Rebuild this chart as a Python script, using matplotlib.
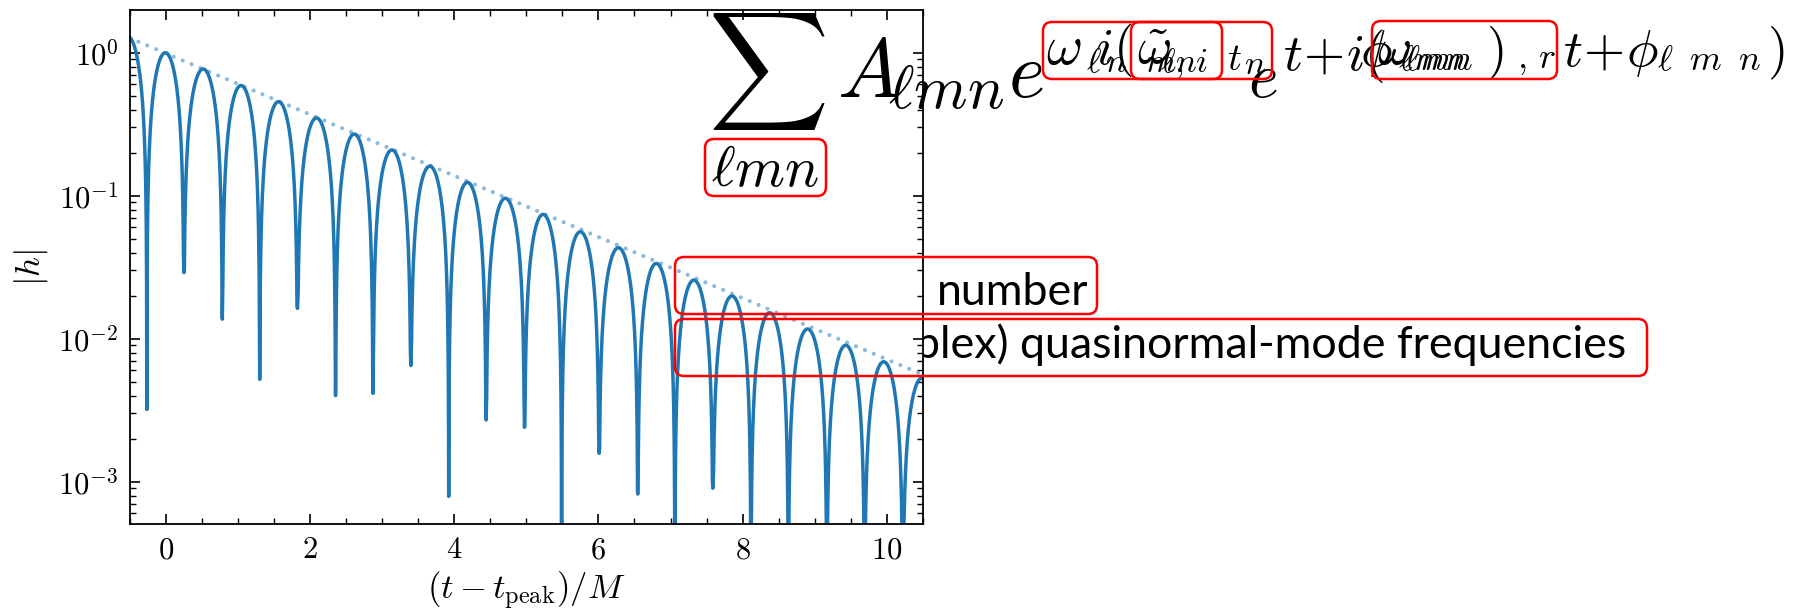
import numpy as np
import matplotlib
matplotlib.use("Agg")
import matplotlib.pyplot as plt
from matplotlib.ticker import FuncFormatter, MultipleLocator, LogLocator, NullFormatter
from matplotlib.patches import FancyBboxPatch
from matplotlib.transforms import IdentityTransform

plt.rcParams['mathtext.fontset'] = 'cm'

W, H = 1795, 611

# zero crossings of the ringdown (where |h| spikes down) and the sampled floor at each one
node_t = [-0.79, -0.26, 0.254, 0.787, 1.305, 1.828, 2.356, 2.875, 3.40, 3.925, 4.444,
          4.976, 5.49, 6.01, 6.546, 7.06, 7.587, 8.115, 8.633, 9.167, 9.69, 10.22, 10.75]
node_h = [1e-5, 3.2e-3, 2.9e-2, 1.37e-2, 5.2e-3, 1.63e-2, 4.0e-3, 4.15e-3, 6.5e-3, 7.9e-4, 2.7e-3,
          2.4e-3, 1e-5, 1.58e-3, 8.2e-4, 1e-5, 9.0e-4, 1e-5, 1e-5, 1e-5, 1e-5, 1e-5, 1e-5]
# height of each lobe between two crossings
peak_h = [1.3, 1.0, 0.77, 0.59, 0.455, 0.35, 0.27, 0.209, 0.161, 0.124, 0.096,
          0.074, 0.056, 0.0433, 0.0336, 0.0257, 0.0199, 0.0152, 0.0117, 0.0090, 0.0069, 0.0053]

# exponential envelope (straight on the log axis)
env_t = [-0.5, 10.5]
env_h = [1.27, 5.6e-3]

xticks = [0, 2, 4, 6, 8, 10]
ylim = (5.06e-4, 1.99)

# build |h| lobe by lobe
tt, hh = [], []
for k in range(len(peak_h)):
    a, b = node_t[k], node_t[k + 1]
    s = np.linspace(0, 1, 160)[1:-1]
    arch = peak_h[k] * np.sin(np.pi * s)
    floor = np.where(s < 0.5, node_h[k], node_h[k + 1])
    keep = arch > floor
    tt.append(a); hh.append(node_h[k])
    tt.extend(a + (b - a) * s[keep]); hh.extend(arch[keep])
tt.append(node_t[-1]); hh.append(node_h[-1])

fig = plt.figure(figsize=(W / 100, H / 100), dpi=100)
ax = fig.add_axes([129.5 / W, 1 - 524 / H, (923 - 129.5) / W, (524 - 10) / H])
ax.set_facecolor('white')

ax.plot(env_t, env_h, color='C0', alpha=0.5, lw=3.0, linestyle=(0, (0.01, 2.3)),
        dash_capstyle='round')
ax.plot(tt, hh, color='C0', lw=2.5)

ax.set_yscale('log')
ax.set_xlim(-0.5, 10.5)
ax.set_ylim(*ylim)
ax.set_xticks(xticks)
ax.xaxis.set_minor_locator(MultipleLocator(0.5))
ax.yaxis.set_major_locator(LogLocator(base=10))
ax.yaxis.set_minor_locator(LogLocator(base=10, subs=np.arange(2, 10)))
ax.yaxis.set_minor_formatter(NullFormatter())
ax.xaxis.set_major_formatter(FuncFormatter(lambda v, p: f'${v:g}$'))
ax.yaxis.set_major_formatter(FuncFormatter(lambda v, p: f'$10^{{{int(round(np.log10(v)))}}}$'))
ax.tick_params(which='both', direction='in', top=True, right=True, labelsize=22)
ax.tick_params(which='major', length=7, width=1.2)
ax.tick_params(which='minor', length=4, width=1.0)
ax.tick_params(axis='x', pad=8)
ax.tick_params(axis='y', pad=8)
for sp in ax.spines.values():
    sp.set_linewidth(1.3)
ax.set_xlabel(r'$(t - t_{\rm peak})/M$', fontsize=25, labelpad=4)
ax.set_ylabel(r'$|h|$', fontsize=25, labelpad=6)


def fx(x):
    return x / W


def fy(y):
    return 1 - y / H


# slide text lying underneath the plot
body = dict(family='Lato', color='black', ha='right', va='baseline', zorder=-1)
line2 = fig.text(fx(1626), fy(358), 'plex) quasinormal-mode frequencies', fontsize=30, **body)
fig.canvas.draw()
wpx = line2.get_window_extent(fig.canvas.get_renderer()).width
size = 30 * 712 / wpx
line2.set_fontsize(size)
fig.text(fx(1088), fy(305), 'number', fontsize=size, **body)

# ringdown sum written on top of the plot
def put(x, y, s, size, ha='left', va='baseline'):
    fig.text(fx(x), fy(y), s, fontsize=size, ha=ha, va=va, zorder=5)


put(767, 72, r'$\sum$', 60, ha='center', va='center')
put(765, 186, r'$\ell m n$', 41, ha='center')
put(837, 97, r'$A$', 60)
put(888, 108, r'$\ell m n$', 44)
put(1008, 97, r'$e$', 56)
put(1046, 64, r'$\omega$', 40)
put(1086, 72, r'$\ell\, n$', 25)
put(1095, 64, r'$i($', 38)
put(1137, 64, r'$\tilde{\omega}$', 38)
put(1145, 72, r'$m n$', 25)
put(1160, 72, r'$\ell,\, i$', 25)
put(1227, 70, r'$t$', 28)
put(1244, 74, r'$n$', 25)
put(1248, 97, r'$e$', 46)
put(1283, 70, r'$t\!+\!i($', 38)
put(1360, 66, r'$\phi$', 38)
put(1377, 64, r'$\omega$', 38)
put(1398, 70, r'$\ell m n$', 26)
put(1404, 70, r'$\ell m n$', 26)
put(1486, 66, r'$)$', 38)
put(1517, 68, r'$,\, r$', 26)
put(1563, 66, r'$t\!+\!\phi$', 38)
put(1657, 70, r'$\ell\;\; m\;\; n$', 26)
put(1767, 66, r'$)$', 38)

# red highlight frames (pixel boxes: left, top, right, bottom)
boxes = [(705, 139, 826, 196), (1043, 22, 1222, 79), (1131, 22, 1272, 79),
         (1372, 21, 1557, 79), (675, 257, 1097, 314), (675, 319, 1647, 376)]
for x0, y0, x1, y1 in boxes:
    fig.add_artist(FancyBboxPatch((x0, H - y1), x1 - x0, y1 - y0,
                                  boxstyle='round,pad=0,rounding_size=9',
                                  transform=IdentityTransform(), fill=False,
                                  edgecolor='#ff0000', lw=1.8, zorder=6))

fig.savefig('out.png', dpi=100)
